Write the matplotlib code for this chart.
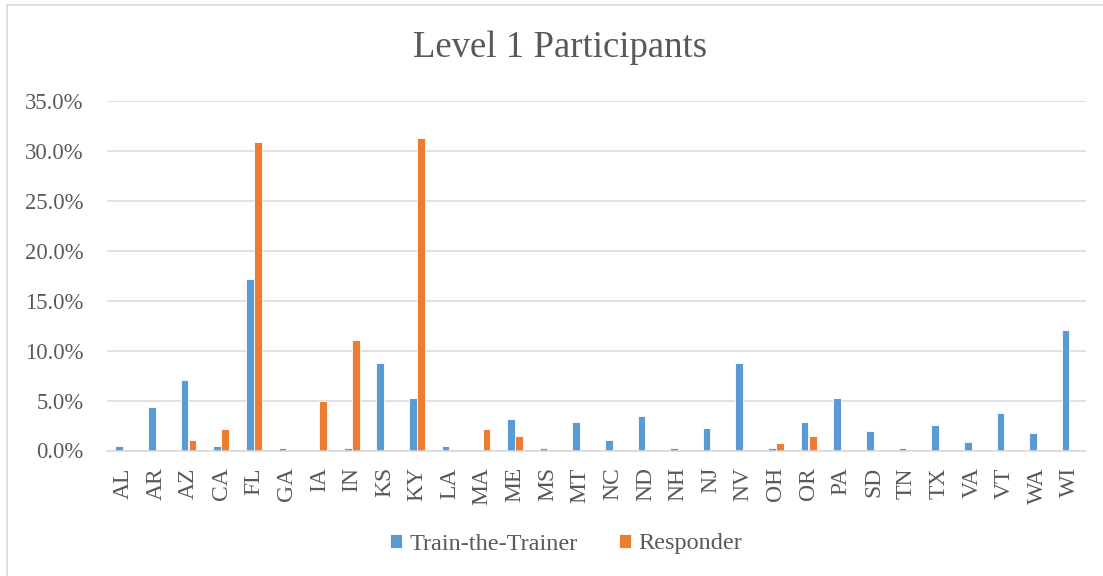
import matplotlib.pyplot as plt
from matplotlib.patches import Rectangle
import numpy as np

states = ["AL", "AR", "AZ", "CA", "FL", "GA", "IA", "IN", "KS", "KY", "LA",
          "MA", "ME", "MS", "MT", "NC", "ND", "NH", "NJ", "NV", "OH", "OR",
          "PA", "SD", "TN", "TX", "VA", "VT", "WA", "WI"]
# percent values
trainer = [0.5, 4.4, 7.05, 0.5, 17.15, 0.25, 0.0, 0.25, 8.8, 5.25, 0.5,
           0.0, 3.2, 0.25, 2.9, 1.1, 3.5, 0.25, 2.3, 8.8, 0.25, 2.9,
           5.25, 2.0, 0.25, 2.6, 0.85, 3.8, 1.75, 12.05]
responder = [0.0, 0.0, 1.1, 2.2, 30.9, 0.0, 4.95, 11.05, 0.0, 31.3, 0.0,
             2.2, 1.45, 0.0, 0.0, 0.0, 0.0, 0.0, 0.0, 0.0, 0.75, 1.45,
             0.0, 0.0, 0.0, 0.0, 0.0, 0.0, 0.0, 0.0]

blue = "#5B9BD5"
orange = "#ED7D31"
gray = "#595959"
grid = "#D9D9D9"
serif = ["Liberation Serif", "DejaVu Serif"]

plt.rcParams["font.family"] = serif

fig = plt.figure(figsize=(11.03, 5.76), dpi=100)
fig.patches.append(Rectangle((7 / 1103, -0.1), 1.2, 1 - 5 / 576 + 0.1,
                             transform=fig.transFigure, fill=False,
                             edgecolor=grid, linewidth=1.2))

ax = fig.add_axes([107 / 1103, 1 - 450.5 / 576, (1086 - 107) / 1103, (450.5 - 101) / 576])

x = np.arange(len(states))
w = 0.235
ax.bar(x - 0.125, np.array(trainer) / 100, w, color=blue, edgecolor="white",
       linewidth=0.6, label="Train-the-Trainer", zorder=3)
ax.bar(x + 0.125, np.array(responder) / 100, w, color=orange, edgecolor="white",
       linewidth=0.6, label="Responder", zorder=3)

ax.set_xlim(-0.5, len(states) - 0.5)
ax.set_ylim(0, 0.35)
ax.set_yticks(np.arange(0, 0.351, 0.05))
ax.set_yticklabels([f"{v * 100:.1f}%" for v in np.arange(0, 0.351, 0.05)])
ax.set_xticks(x)
ax.set_xticklabels(states, rotation=90)
ax.tick_params(axis="y", length=0, labelsize=16.3, colors=gray, pad=17)
ax.tick_params(axis="x", length=0, labelsize=17, colors=gray, pad=12)
ax.grid(axis="y", color=grid, linewidth=1.1, zorder=0)
for s in ["top", "right", "left"]:
    ax.spines[s].set_visible(False)
ax.spines["bottom"].set_color(grid)
ax.spines["bottom"].set_linewidth(1.1)
ax.spines["bottom"].set_zorder(4)

fig.text(560 / 1103, 1 - 48 / 576, "Level 1 Participants", ha="center", va="center",
         fontsize=26.5, color=gray)

leg = fig.legend(loc="center", bbox_to_anchor=(566 / 1103, 1 - 544 / 576), ncol=2,
                 frameon=False, fontsize=17.5, handlelength=0.5, handleheight=0.5,
                 handletextpad=0.3, columnspacing=1.7)
for t in leg.get_texts():
    t.set_color(gray)

fig.savefig("out.png", dpi=100)
